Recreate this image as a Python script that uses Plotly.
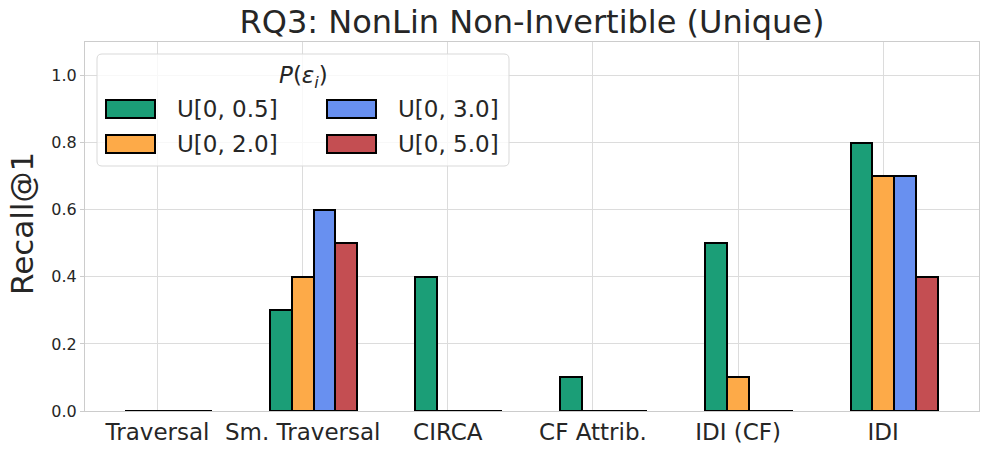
import plotly.graph_objects as go

categories = ["Traversal", "Sm. Traversal", "CIRCA", "CF Attrib.", "IDI (CF)", "IDI"]
series_names = ["U[0, 0.5]", "U[0, 2.0]", "U[0, 3.0]", "U[0, 5.0]"]
u05 = [0.0, 0.3, 0.4, 0.1, 0.5, 0.8]
u20 = [0.0, 0.4, 0.0, 0.0, 0.1, 0.7]
u30 = [0.0, 0.6, 0.0, 0.0, 0.0, 0.7]
u50 = [0.0, 0.5, 0.0, 0.0, 0.0, 0.4]
series_values = [u05, u20, u30, u50]
y_tick_vals = [0.0, 0.2, 0.4, 0.6, 0.8, 1.0]
colors = ["#1b9e77", "#fdaa48", "#6890f0", "#c44e52"]

W, H = 989, 456
ML, MR, MT, MB = 85, 10, 42, 45
PW, PH = W - ML - MR, H - MT - MB
FONT = "DejaVu Sans"
TXT = "#262626"

def px_x(px):
    return (px - ML) / PW

def px_y(py):
    return (H - MB - py) / PH

positions = list(range(len(categories)))
bar_w = 0.15
start = -0.225

fig = go.Figure()
for j, (name, vals, col) in enumerate(zip(series_names, series_values, colors)):
    fig.add_trace(go.Bar(
        x=positions, y=vals, name=name,
        width=bar_w, offset=start + j * bar_w,
        marker=dict(color=col, line=dict(color="black", width=2)),
        showlegend=False,
    ))

# custom legend (matplotlib-like)
shapes = []
x0, x1, y0, y1, r = 97, 509, 54, 166, 5
path = (f"M {px_x(x0 + r)},{px_y(y0)} L {px_x(x1 - r)},{px_y(y0)} "
        f"Q {px_x(x1)},{px_y(y0)} {px_x(x1)},{px_y(y0 + r)} "
        f"L {px_x(x1)},{px_y(y1 - r)} Q {px_x(x1)},{px_y(y1)} {px_x(x1 - r)},{px_y(y1)} "
        f"L {px_x(x0 + r)},{px_y(y1)} Q {px_x(x0)},{px_y(y1)} {px_x(x0)},{px_y(y1 - r)} "
        f"L {px_x(x0)},{px_y(y0 + r)} Q {px_x(x0)},{px_y(y0)} {px_x(x0 + r)},{px_y(y0)} Z")
shapes.append(dict(type="path", path=path, xref="paper", yref="paper",
                   fillcolor="rgba(255,255,255,0.8)", line=dict(color="#d9d9d9", width=1),
                   layer="above"))
annotations = []
annotations.append(dict(text="<i>P</i>(<i>ε<sub>i</sub></i>)", x=px_x(303), y=px_y(77),
                        xref="paper", yref="paper", xanchor="center", yanchor="middle",
                        showarrow=False, font=dict(family=FONT, size=23, color=TXT)))
slots = [(106, 109), (106, 144), (327, 109), (327, 144)]
for (sx, sy), name, col in zip(slots, series_names, colors):
    shapes.append(dict(type="rect", xref="paper", yref="paper",
                       x0=px_x(sx), x1=px_x(sx + 49), y0=px_y(sy - 9), y1=px_y(sy + 9),
                       fillcolor=col, line=dict(color="black", width=2), layer="above"))
    annotations.append(dict(text=name, x=px_x(sx + 69), y=px_y(sy), xref="paper", yref="paper",
                            xanchor="left", yanchor="middle", showarrow=False,
                            font=dict(family=FONT, size=23, color=TXT)))
annotations.append(dict(text="Recall@1", textangle=-90, x=px_x(22), y=px_y(224),
                        xref="paper", yref="paper", xanchor="center", yanchor="middle",
                        showarrow=False, font=dict(family=FONT, size=31, color=TXT)))

fig.update_layout(
    width=W, height=H,
    margin=dict(l=ML, r=MR, t=MT, b=MB),
    paper_bgcolor="white", plot_bgcolor="white",
    title=dict(text="RQ3: NonLin Non-Invertible (Unique)", x=0.5, xref="paper",
               y=1 - 22 / H, yref="container", xanchor="center", yanchor="middle",
               font=dict(family=FONT, size=32, color=TXT)),
    shapes=shapes, annotations=annotations,
    bargap=0, barmode="overlay",
    showlegend=False,
)
fig.update_xaxes(
    range=[-0.5, 5.66], tickmode="array", tickvals=positions, ticktext=categories,
    showgrid=True, gridcolor="#dcdcdc", gridwidth=1,
    showline=True, linecolor="#cccccc", linewidth=1, mirror=True,
    ticks="", tickfont=dict(family=FONT, size=23, color=TXT), zeroline=False,
)
fig.update_yaxes(
    range=[0, 1.1], tickmode="array", tickvals=y_tick_vals,
    ticktext=[f"{v:.1f}" for v in y_tick_vals],
    showgrid=True, gridcolor="#dcdcdc", gridwidth=1,
    showline=True, linecolor="#cccccc", linewidth=1, mirror=True,
    ticks="outside", ticklen=4, tickcolor="#cccccc",
    tickfont=dict(family=FONT, size=16, color=TXT), zeroline=False,
)
fig.write_html("out.html", config={"displayModeBar": False},
               post_script="document.body.style.margin='0';document.body.style.padding='0';")
